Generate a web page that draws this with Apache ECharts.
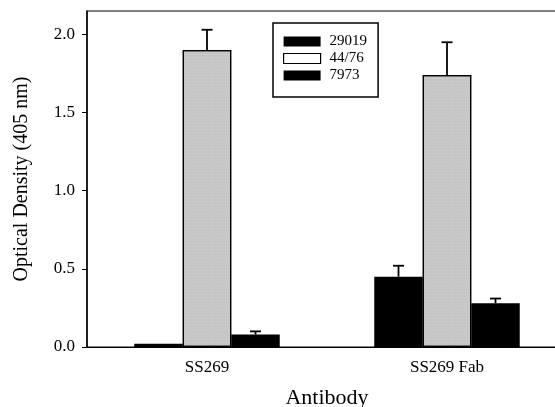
<!DOCTYPE html>
<html><head><meta charset="utf-8">
<script src="https://cdn.jsdelivr.net/npm/echarts@6/dist/echarts.min.js"></script>
<style>html,body{margin:0;padding:0;background:#fff;}#c{width:555px;height:407px;}</style>
</head><body><div id="c"></div>
<script>
var categories = ['SS269', 'SS269 Fab'];
var seriesNames = ['29019', '44/76', '7973'];
var val29019 = [0.02, 0.45];
var val4476 = [1.90, 1.74];
var val7973 = [0.08, 0.28];
var err29019 = [0.02, 0.52];
var err4476 = [2.03, 1.95];
var err7973 = [0.10, 0.31];
var yTicks = [0, 0.5, 1.0, 1.5, 2.0];

var font = 'Liberation Serif';
var barW = 48.5;
var chart = echarts.init(document.getElementById('c'));

function errSeries(vals, errs, idx) {
  var data = vals.map(function (v, i) { return [i, v, errs[i]]; });
  return {
    type: 'custom', z: 5, silent: true,
    renderItem: function (params, api) {
      var off = (idx - 1) * barW;
      var p0 = api.coord([api.value(0), api.value(1)]);
      var p1 = api.coord([api.value(0), api.value(2)]);
      var x = p0[0] + off;
      if (Math.abs(p1[1] - p0[1]) < 1) return null;
      return { type: 'group', children: [
        { type: 'line', shape: { x1: x, y1: p0[1], x2: x, y2: p1[1] }, style: { stroke: '#000', lineWidth: 1.8 } },
        { type: 'line', shape: { x1: x - 5.5, y1: p1[1], x2: x + 5.5, y2: p1[1] }, style: { stroke: '#000', lineWidth: 1.8 } }
      ]};
    },
    data: data
  };
}

chart.setOption({
  animation: false,
  grid: { left: 87, right: -12, top: 11, bottom: 60, show: true, borderColor: '#000', borderWidth: 1,
    outerBoundsMode: 'none', containLabel: false },
  legend: {
    orient: 'vertical', left: 273, top: 23,
    data: [
      { name: '29019' },
      { name: '44/76', itemStyle: { color: '#fff', borderColor: '#000', borderWidth: 1.2, decal: 'none' } },
      { name: '7973' }
    ],
    icon: 'rect',
    borderColor: '#000', borderWidth: 1.5, padding: [11, 11, 14, 10],
    itemWidth: 37, itemHeight: 10, itemGap: 2,
    textStyle: { fontFamily: font, fontSize: 15, color: '#000', padding: [0, 0, 0, 4] }
  },
  xAxis: {
    type: 'category', data: categories,
    axisLine: { lineStyle: { color: '#000', width: 1 } },
    axisTick: { show: false },
    axisLabel: { fontFamily: font, fontSize: 17, color: '#000', margin: 12 },
    name: 'Antibody', nameLocation: 'middle', nameGap: 40,
    nameTextStyle: { fontFamily: font, fontSize: 22, color: '#000' }
  },
  yAxis: {
    type: 'value', min: 0, max: 2.15, interval: 0.5,
    splitLine: { show: false },
    axisLine: { show: true, lineStyle: { color: '#000', width: 1.5 } },
    axisTick: { show: true, customValues: yTicks, length: 5, lineStyle: { color: '#000' } },
    axisLabel: { customValues: yTicks, fontFamily: font, fontSize: 17, color: '#000', margin: 12,
      formatter: function (v) { return v.toFixed(1); } },
    name: 'Optical Density (405 nm)', nameLocation: 'middle', nameGap: 55,
    nameTextStyle: { fontFamily: font, fontSize: 20, color: '#000' }
  },
  series: [
    { name: '29019', type: 'bar', data: val29019, barWidth: barW, barGap: '0%',
      itemStyle: { color: '#000' } },
    { name: '44/76', type: 'bar', data: val4476, barWidth: barW, barGap: '0%',
      itemStyle: { color: '#c6c6c6', borderColor: '#000', borderWidth: 1.2,
        decal: { symbol: 'rect', symbolSize: 0.6, color: 'rgba(255,255,255,0.55)', dashArrayX: [1, 2], dashArrayY: [1, 2], rotation: 0 } } },
    { name: '7973', type: 'bar', data: val7973, barWidth: barW, barGap: '0%',
      itemStyle: { color: '#000' } },
    errSeries(val29019, err29019, 0),
    errSeries(val4476, err4476, 1),
    errSeries(val7973, err7973, 2)
  ]
});
</script></body></html>
